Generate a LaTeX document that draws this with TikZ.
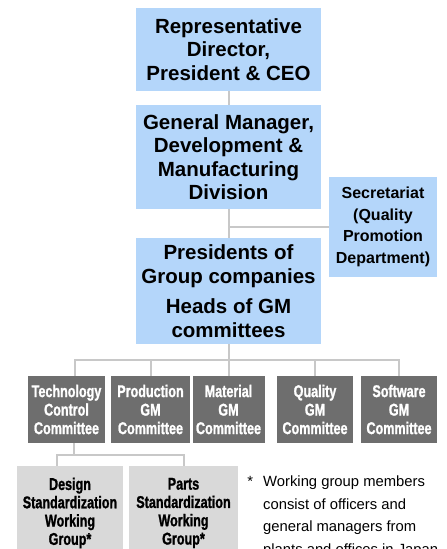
\documentclass[tikz,border=0pt]{standalone}
\usepackage{fontspec}
\setmainfont{Liberation Sans}
\newfontfamily\narrowbold[FakeStretch=0.74, FakeBold=1.2]{Liberation Sans Bold}
\usepackage{xcolor}
\usepackage{tikz}
\usetikzlibrary{positioning, calc}
\definecolor{topcolor}{RGB}{180,214,250}
\definecolor{cmtcolor}{RGB}{110,110,110}
\definecolor{wgcolor}{RGB}{217,217,217}
\definecolor{linkcolor}{RGB}{200,200,200}

\tikzset{
    topbox/.style={rectangle, fill=topcolor, inner sep=0pt, align=center,
        font=\fontsize{20.5}{23.5}\selectfont\bfseries},
    secbox/.style={rectangle, fill=topcolor, inner sep=0pt, align=center,
        minimum width=108pt, minimum height=100pt,
        font=\fontsize{16}{21.5}\selectfont\bfseries},
    cmtbox/.style={rectangle, fill=cmtcolor, text=white, inner sep=0pt, align=center,
        minimum height=67pt, font=\narrowbold\fontsize{17}{18.5}\selectfont},
    wgbox/.style={rectangle, fill=wgcolor, inner sep=0pt, align=center,
        minimum height=94pt, font=\narrowbold\fontsize{17}{18.3}\selectfont},
    link/.style={draw=linkcolor, line width=2pt}
}

\begin{document}
\begin{tikzpicture}[x=1pt, y=-1pt]
    \clip (0,0) rectangle (447,549);
    \fill[white] (0,0) rectangle (447,549);

    % top chain
    \node[topbox, minimum width=185pt, minimum height=83pt] (ceo) at (228.5,49.5)
        {Representative\\Director,\\President \& CEO};
    \node[topbox, minimum width=185pt, minimum height=104pt] (dm) at (228.5,157)
        {General Manager,\\Development \&\\Manufacturing\\Division};
    \node[topbox, minimum width=185pt, minimum height=106pt] (pres) at (228.5,291)
        {Presidents of\\Group companies\\[7pt]Heads of GM\\committees};
    \node[secbox] (sec) at (383,227)
        {Secretariat\\(Quality\\Promotion\\Department)};

    % committees
    \node[cmtbox, minimum width=77pt] (c1) at (66.5,409.5) {Technology\\Control\\Committee};
    \node[cmtbox, minimum width=79pt] (c2) at (150.5,409.5) {Production\\GM\\Committee};
    \node[cmtbox, minimum width=72pt] (c3) at (228.5,409.5) {Material\\GM\\Committee};
    \node[cmtbox, minimum width=76pt] (c4) at (315,409.5) {Quality\\GM\\Committee};
    \node[cmtbox, minimum width=76pt] (c5) at (399,409.5) {Software\\GM\\Committee};

    % working groups
    \node[wgbox, minimum width=106pt] (wg1) at (70,513)
        {Design\\Standardization\\Working\\Group*};
    \node[wgbox, minimum width=109pt] (wg2) at (183.5,513)
        {Parts\\Standardization\\Working\\Group*};

    \node[anchor=north west, inner sep=0pt, align=left,
        font=\fontsize{14.8}{22.5}\selectfont] (note) at (263,476)
        {\llap{*\hspace{10pt}}Working group members\\consist of officers and\\general managers from\\plants and offices in Japan.};

    % connectors
    \draw[link] (ceo) -- (dm);
    \draw[link] (dm) -- (pres);
    \draw[link] (sec.west) -- (sec.west -| dm.south);
    \draw[link] (pres) -- (c3);
    \coordinate (cbus) at ([yshift=-16pt]pres.south);
    \draw[link] ([xshift=8pt]c1.north) |- (cbus) -| (c5.north);
    \draw[link] (c2.north) -- (c2.north |- cbus);
    \draw[link] (c4.north) -- (c4.north |- cbus);
    \coordinate (wgbus) at ([xshift=7pt,yshift=-12pt]c1.south);
    \draw[link] ([xshift=7pt]c1.south) -- (wgbus);
    \draw[link] ([xshift=-13pt]wg1.north) |- (wgbus) -| (wg2.north);
\end{tikzpicture}
\end{document}
